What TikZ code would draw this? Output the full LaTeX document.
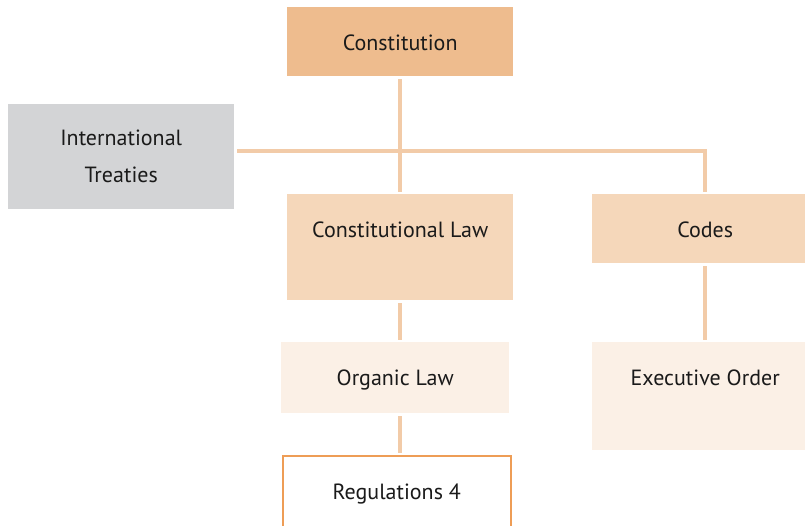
\documentclass[tikz,border=0pt]{standalone}
\usepackage{fontspec}
\setmainfont{PT Sans}
\usetikzlibrary{positioning}
\definecolor{topfill}{HTML}{EEBC8E}
\definecolor{midfill}{HTML}{F5D7BA}
\definecolor{lowfill}{HTML}{FBF0E6}
\definecolor{grayfill}{HTML}{D3D4D6}
\definecolor{regline}{HTML}{EE9D56}
\definecolor{linkcol}{HTML}{F2CBA8}
\definecolor{inkcol}{HTML}{1A1A1A}
\tikzset{
    %Define style for boxes
    cell/.style={
           rectangle,
           anchor=north west,
           inner sep=0pt,
           minimum width=226pt,
           text=inkcol,
           font=\fontsize{22}{37}\selectfont,
           text centered},
    box/.style={
           cell,
           text height=43pt},
    % Define connector style
    link/.style={
           draw=linkcol,
           line width=4.5pt,
           shorten <=3pt,
           shorten >=2pt}
}
\begin{document}
\begin{tikzpicture}[x=1pt,y=1pt]
\useasboundingbox (0,0) rectangle (805,-526);
\node[box, fill=topfill, text depth=26pt](const) at (287,-7){Constitution};
\node[cell, fill=grayfill, align=center, minimum height=105pt](treat) at (8,-104){International\\Treaties};
\node[box, fill=midfill, text depth=63pt](claw) at (287,-194){Constitutional Law};
\node[box, fill=midfill, text depth=26pt](codes) at (592,-194){Codes};
\node[box, fill=lowfill, minimum width=228pt, text depth=28pt](organic) at (281,-342){Organic Law};
\node[box, fill=lowfill, text depth=65pt](exec) at (592,-342){Executive Order};
\node[box, draw=regline, line width=1.5pt, minimum width=228pt, text height=44pt, text depth=27pt](regs) at (282,-455){Regulations 4};
\path[link]
	(const) edge (claw)
	(codes) edge (exec);
\draw[link] (treat.east |- 0,-151) -| (codes.north);
\draw[link] (claw.south) -- (claw.south |- organic.north);
\draw[link] (claw.south |- organic.south) -- (claw.south |- regs.north);
\end{tikzpicture}
\end{document}
